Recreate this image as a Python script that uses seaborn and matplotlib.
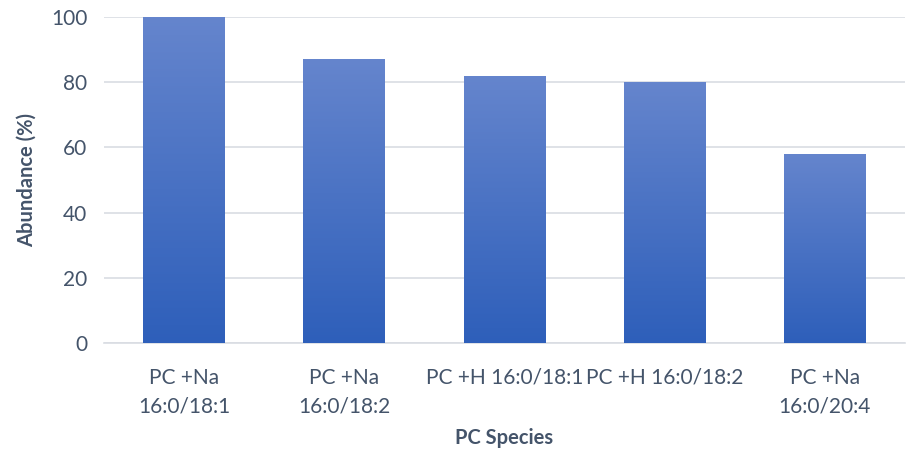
import numpy as np
import pandas as pd
import matplotlib
matplotlib.use("Agg")
import matplotlib.pyplot as plt
from matplotlib.colors import LinearSegmentedColormap
import seaborn as sns

species = ["PC +Na\n16:0/18:1", "PC +Na\n16:0/18:2", "PC +H 16:0/18:1",
           "PC +H 16:0/18:2", "PC +Na\n16:0/20:4"]
abundance = [100, 87, 82, 80, 58]
y_ticks = [0, 20, 40, 60, 80, 100]

sns.set_theme(style="white")
plt.rcParams["font.family"] = ["Lato", "DejaVu Sans"]

text_color = "#44546A"
grid_color = "#D9DDE3"

df = pd.DataFrame({"species": species, "abundance": abundance})

fig = plt.figure(figsize=(9.07, 4.54), dpi=100)
ax = fig.add_axes([104 / 907, 1 - 343 / 454, 801 / 907, 326 / 454])

sns.barplot(data=df, x="species", y="abundance", color="#3F6CC4",
            width=0.51, ax=ax, zorder=2)

# vertical blue gradient over each bar
cmap = LinearSegmentedColormap.from_list("bar_grad", ["#2E5FBA", "#6585CD"])
grad = np.linspace(0, 1, 256).reshape(-1, 1)
for patch in ax.patches:
    x0, y0 = patch.get_x(), patch.get_y()
    w, h = patch.get_width(), patch.get_height()
    im = ax.imshow(grad, cmap=cmap, origin="lower", aspect="auto",
                   extent=[x0, x0 + w, y0, y0 + h], zorder=3,
                   vmin=0, vmax=1)
    im.set_clip_path(patch)
    patch.set_facecolor("none")
    patch.set_edgecolor("none")

ax.set_xlim(-0.5, len(species) - 0.5)
ax.set_ylim(0, 100)
ax.set_yticks(y_ticks)
ax.set_yticklabels([str(t) for t in y_ticks])
ax.set_xticks(range(len(species)))
ax.set_xticklabels(species, linespacing=1.55)
ax.yaxis.grid(True, color=grid_color, linewidth=1.2, zorder=0)
ax.set_axisbelow(True)
for s in ["top", "right", "left"]:
    ax.spines[s].set_visible(False)
ax.spines["bottom"].set_color(grid_color)
ax.spines["bottom"].set_linewidth(1.2)
ax.tick_params(axis="both", length=0, labelsize=15, colors=text_color)
ax.tick_params(axis="x", pad=18)
ax.tick_params(axis="y", pad=12)

ax.set_xlabel("PC Species", fontsize=14.5, fontweight="bold", color=text_color)
ax.xaxis.set_label_coords(0.5, -0.262)
ax.set_ylabel("Abundance (%)", fontsize=14.5, fontweight="bold", color=text_color,
              labelpad=10)

fig.savefig("out.png", dpi=100)
